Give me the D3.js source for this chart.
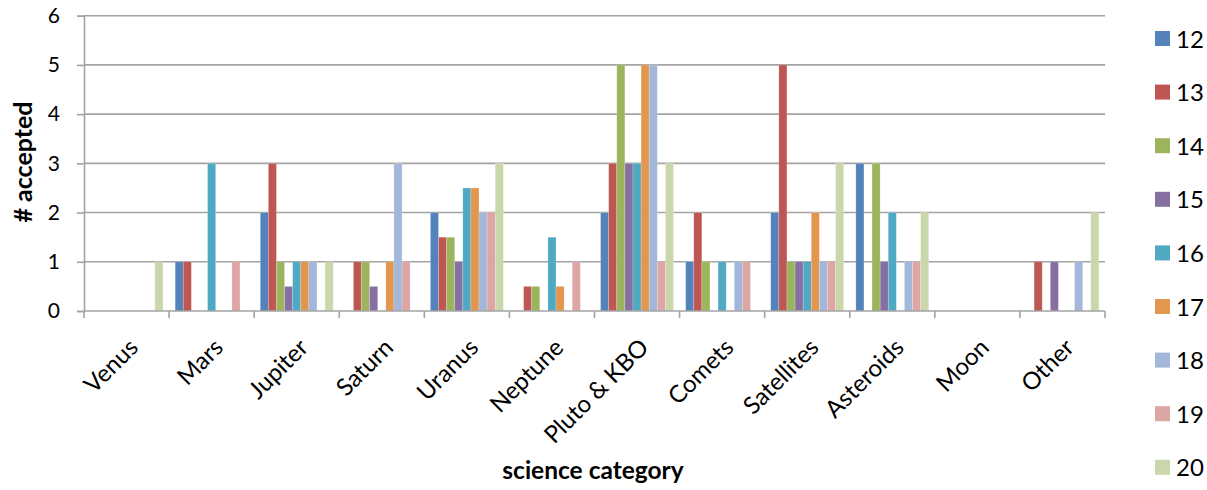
<!DOCTYPE html>
<html>
<head>
<meta charset="utf-8">
<script src="https://cdn.jsdelivr.net/npm/d3@7"></script>
<style>
  html, body { margin: 0; padding: 0; background: #fff; }
  svg { display: block; font-family: Lato, "Open Sans", sans-serif; }
</style>
</head>
<body>
<svg id="chart" width="1207" height="490"></svg>
<script>
// Science categories along the x axis
const categories = ["Venus", "Mars", "Jupiter", "Saturn", "Uranus", "Neptune",
  "Pluto & KBO", "Comets", "Satellites", "Asteroids", "Moon", "Other"];

// Series names (legend entries)
const seriesNames = ["12", "13", "14", "15", "16", "17", "18", "19", "20"];

// Accepted counts per series, one value per category
const s12 = [0, 1, 2, 0, 2, 0, 2, 1, 2, 3, 0, 0];
const s13 = [0, 1, 3, 1, 1.5, 0.5, 3, 2, 5, 0, 0, 1];
const s14 = [0, 0, 1, 1, 1.5, 0.5, 5, 1, 1, 3, 0, 0];
const s15 = [0, 0, 0.5, 0.5, 1, 0, 3, 0, 1, 1, 0, 1];
const s16 = [0, 3, 1, 0, 2.5, 1.5, 3, 1, 1, 2, 0, 0];
const s17 = [0, 0, 1, 1, 2.5, 0.5, 5, 0, 2, 0, 0, 0];
const s18 = [0, 0, 1, 3, 2, 0, 5, 1, 1, 1, 0, 1];
const s19 = [0, 1, 0, 1, 2, 1, 1, 1, 1, 1, 0, 0];
const s20 = [1, 0, 1, 0, 3, 0, 3, 0, 3, 2, 0, 2];
const seriesValues = [s12, s13, s14, s15, s16, s17, s18, s19, s20];

// Y axis ticks
const yTicks = [0, 1, 2, 3, 4, 5, 6];

const colors = ["#5383BA", "#BE5753", "#9CB55D", "#8670A1", "#4FA9C2",
  "#E3964D", "#A2B7D9", "#DDA5A3", "#C9D7AA"];

const svg = d3.select("#chart");
const plotLeft = 84, plotRight = 1105, plotTop = 15.7, plotBottom = 311;
const axisColor = "#A3A3A3";

const x = d3.scaleBand().domain(categories).range([plotLeft, plotRight]).padding(0);
const xs = d3.scaleBand().domain(seriesNames).range([0, x.bandwidth()])
  .paddingInner(0).paddingOuter(0.75);
const y = d3.scaleLinear().domain([0, 6]).range([plotBottom, plotTop]);

// horizontal gridlines
svg.append("g").selectAll("line")
  .data(yTicks.filter(d => d > 0))
  .join("line")
  .attr("x1", plotLeft).attr("x2", plotRight)
  .attr("y1", d => y(d)).attr("y2", d => y(d))
  .attr("stroke", axisColor).attr("stroke-width", 1.6);

// bars
const gBars = svg.append("g");
seriesValues.forEach((vals, si) => {
  gBars.append("g").selectAll("rect")
    .data(vals.map((v, ci) => ({ v, c: categories[ci] })).filter(d => d.v > 0))
    .join("rect")
    .attr("x", d => x(d.c) + xs(seriesNames[si]))
    .attr("width", xs.bandwidth())
    .attr("y", d => y(d.v))
    .attr("height", d => y(0) - y(d.v))
    .attr("fill", colors[si])
    .attr("stroke", "#ffffff").attr("stroke-opacity", 0.35).attr("stroke-width", 0.6);
});

// y axis
const yAxis = d3.axisLeft(y).tickValues(yTicks).tickSize(7).tickPadding(17)
  .tickFormat(d3.format("d"));
const gy = svg.append("g").attr("transform", `translate(${plotLeft},0)`).call(yAxis);
gy.select(".domain").attr("stroke", axisColor).attr("stroke-width", 1.6);
gy.selectAll(".tick line").attr("stroke", axisColor).attr("stroke-width", 1.6);
gy.selectAll(".tick text").attr("font-size", 21).attr("fill", "#000")
  .attr("font-family", "Lato, sans-serif");

// x axis
const gx = svg.append("g").attr("transform", `translate(0,${plotBottom})`);
gx.append("line").attr("x1", plotLeft).attr("x2", plotRight).attr("y1", 0).attr("y2", 0)
  .attr("stroke", axisColor).attr("stroke-width", 1.6);
const bounds = categories.map(c => x(c)).concat([plotRight]);
gx.selectAll("line.tk").data(bounds).join("line").attr("class", "tk")
  .attr("x1", d => d).attr("x2", d => d).attr("y1", 0).attr("y2", 7)
  .attr("stroke", axisColor).attr("stroke-width", 1.6);
gx.selectAll("text").data(categories).join("text")
  .attr("transform", d => `translate(${x(d) + x.bandwidth() / 2 + 13},${38}) rotate(-45)`)
  .attr("text-anchor", "end")
  .attr("font-size", 24)
  .attr("fill", "#000")
  .text(d => d);

// axis titles
svg.append("text")
  .attr("transform", "translate(32,162) rotate(-90)")
  .attr("text-anchor", "middle")
  .attr("font-size", 25).attr("font-weight", "bold")
  .text("# accepted");
svg.append("text")
  .attr("x", 593).attr("y", 479)
  .attr("text-anchor", "middle")
  .attr("font-size", 24.5).attr("font-weight", "bold")
  .text("science category");

// legend
const legend = svg.append("g");
seriesNames.forEach((n, i) => {
  const yy = 31 + i * 53.6;
  legend.append("rect").attr("x", 1155).attr("y", yy).attr("width", 15).attr("height", 15)
    .attr("fill", colors[i]);
  legend.append("text").attr("x", 1176).attr("y", yy + 8).attr("dy", "0.36em")
    .attr("font-size", 24).attr("fill", "#000").text(n);
});
</script>
</body>
</html>
